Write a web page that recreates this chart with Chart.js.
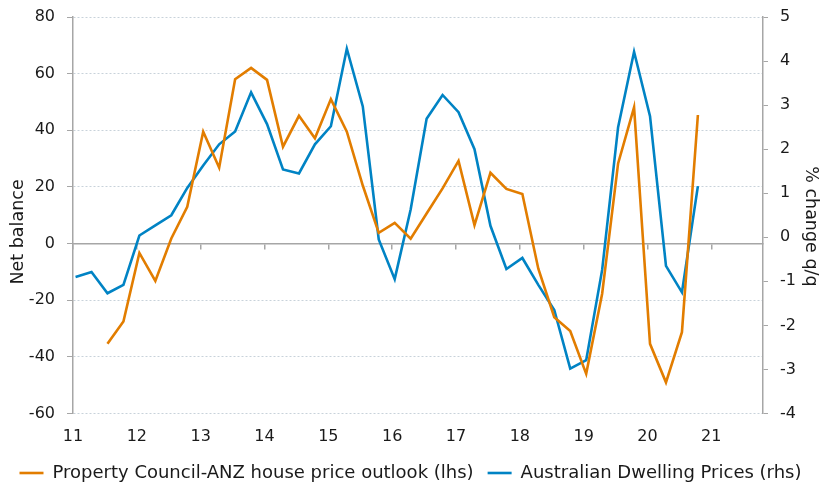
<!DOCTYPE html>
<html>
<head>
<meta charset="utf-8">
<script src="https://cdn.jsdelivr.net/npm/chart.js@4.4.1/dist/chart.umd.min.js"></script>
<style>
  html, body { margin: 0; padding: 0; background: #fff; }
  #wrap { width: 821px; height: 484px; }
</style>
</head>
<body>
<div id="wrap"><canvas id="c"></canvas></div>
<script>
// quarters, 2011Q1 .. 2020Q4
const quarters = [
  '2011Q1','2011Q2','2011Q3','2011Q4','2012Q1','2012Q2','2012Q3','2012Q4',
  '2013Q1','2013Q2','2013Q3','2013Q4','2014Q1','2014Q2','2014Q3','2014Q4',
  '2015Q1','2015Q2','2015Q3','2015Q4','2016Q1','2016Q2','2016Q3','2016Q4',
  '2017Q1','2017Q2','2017Q3','2017Q4','2018Q1','2018Q2','2018Q3','2018Q4',
  '2019Q1','2019Q2','2019Q3','2019Q4','2020Q1','2020Q2','2020Q3','2020Q4'
];

// x axis tick labels (years)
const yearTicks = [11, 12, 13, 14, 15, 16, 17, 18, 19, 20, 21];

// Property Council-ANZ house price outlook, net balance (lhs)
const outlook = [
  null, null, -35.4, -27.5, -3.3, -13.2, 1.8, 13.0,
  39.5, 26.8, 58.0, 62.0, 57.8, 34.2, 45.1, 37.2,
  51.0, 39.5, 20.5, 3.8, 7.3, 1.7, 10.6, 19.5,
  29.2, 6.5, 25.0, 19.3, 17.5, -8.9, -26.0, -30.9,
  -46.0, -17.7, 28.3, 48.1, -35.4, -49.0, -31.3, 45.4
];

// Australian dwelling prices, % change q/q (rhs)
const dwelling = [
  -0.90, -0.79, -1.27, -1.08, 0.04, 0.27, 0.50, 1.12,
  1.63, 2.11, 2.40, 3.29, 2.57, 1.54, 1.45, 2.11,
  2.52, 4.28, 2.97, -0.05, -0.95, 0.63, 2.69, 3.23,
  2.84, 2.00, 0.26, -0.72, -0.47, -1.08, -1.65, -2.98,
  -2.79, -0.74, 2.50, 4.21, 2.75, -0.65, -1.25, 1.16
];

const FONT = 'DejaVu Sans';
const TXT = '#1a1a1a';
const AXIS = '#a6a6a6';
const GRID = '#c8d2da';
const ORANGE = '#E27D00';
const BLUE = '#0083C4';

// year on the axis, e.g. 2013Q2 -> 13.29
function qx(q) {
  return +q.slice(2, 4) + (+q[5] - 1) / 4 + 0.04;
}

function series(vals) {
  return quarters.map((q, i) => ({ x: qx(q), y: vals[i] }));
}

function yearTickList(s) {
  s.ticks = yearTicks.map(v => ({ value: v }));
}

// let layout padding alone decide the plot top / bottom
function noLabelPad(s) {
  s.paddingTop = 0; s.paddingBottom = 0;
}

const tickFont = { family: FONT, size: 16 };
const titleFont = { family: FONT, size: 17.5 };

new Chart(document.getElementById('c'), {
  type: 'line',
  data: {
    datasets: [
      {
        label: 'Property Council-ANZ house price outlook (lhs)',
        data: series(outlook),
        borderColor: ORANGE, backgroundColor: ORANGE,
        borderWidth: 2.6, pointRadius: 0, tension: 0,
        xAxisID: 'x', yAxisID: 'y'
      },
      {
        label: 'Australian Dwelling Prices (rhs)',
        data: series(dwelling),
        borderColor: BLUE, backgroundColor: BLUE,
        borderWidth: 2.6, pointRadius: 0, tension: 0,
        xAxisID: 'x', yAxisID: 'y1'
      }
    ]
  },
  options: {
    responsive: true, maintainAspectRatio: false, animation: false,
    layout: { padding: { top: 17, left: 0, right: 0, bottom: -8 } },
    plugins: {
      legend: {
        position: 'bottom',
        labels: {
          usePointStyle: true, pointStyle: 'line', pointStyleWidth: 24,
          color: TXT, font: { family: FONT, size: 18 }, padding: 14
        }
      },
      tooltip: { enabled: false }
    },
    scales: {
      x: {
        type: 'linear', position: 'bottom', min: 11, max: 21.81,
        grid: { display: false, drawTicks: false }, border: { display: false },
        ticks: { color: TXT, font: tickFont, padding: 14 },
        afterBuildTicks: yearTickList,
        afterFit: s => { s.height = 36.5; }
      },
      xz: {
        type: 'linear', position: { y: 0 }, min: 11, max: 21.81,
        grid: { drawOnChartArea: false, drawTicks: true, tickLength: 5, color: AXIS, lineWidth: 1.5 },
        border: { color: AXIS, width: 1.5 },
        ticks: { display: false },
        afterBuildTicks: yearTickList
      },
      y: {
        position: 'left', min: -60, max: 80,
        ticks: { stepSize: 20, color: TXT, font: tickFont, padding: 12 },
        grid: { color: GRID, lineWidth: 1, tickColor: AXIS, tickLength: 6 },
        border: { color: AXIS, width: 1.5, dash: [2, 2] },
        // trailing spaces push the title a little below the axis middle, as in the original
        title: { display: true, text: 'Net balance      ', color: TXT, font: titleFont, padding: { top: 8, bottom: 0 } },
        afterFit: s => { s.width = 73; noLabelPad(s); }
      },
      y1: {
        position: 'right', min: -4, max: 5,
        ticks: { stepSize: 1, color: TXT, font: tickFont, padding: 12 },
        grid: { drawOnChartArea: false, color: AXIS, tickLength: 5 },
        border: { color: AXIS, width: 1.5 },
        title: { display: true, text: '    % change q/q', color: TXT, font: titleFont, padding: { top: 0, bottom: 0 } },
        afterFit: s => { s.width = 58; noLabelPad(s); }
      }
    }
  }
});
</script>
</body>
</html>
